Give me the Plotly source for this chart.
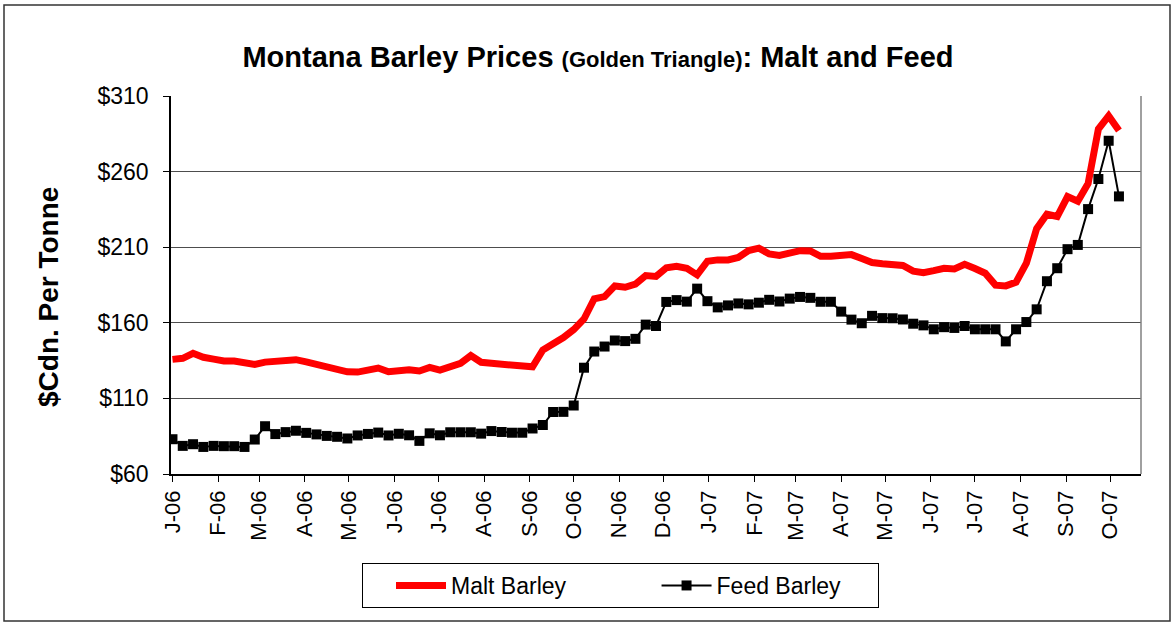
import pandas as pd
import plotly.graph_objects as go

# ---- data (weekly prices, $Cdn per tonne) ----
start_date = "2006-01-06"

malt_barley = [
    135.8, 136.5, 139.8, 137.2, 136.0, 134.7, 134.7, 134.0, 132.5, 134.0,
    134.9, 134.7, 135.6, 134.2, 132.5, 131.2, 129.9, 127.6, 127.4, 128.6,
    130.1, 127.6, 128.8, 128.9, 128.1, 130.5, 128.7, 131.5, 133.2, 138.3,
    133.9, 133.2, 132.7, 131.8, 131.6, 130.9, 142.0, 146.0, 150.2, 155.5,
    162.5, 175.9, 177.3, 184.4, 183.5, 185.6, 191.2, 190.7, 196.3, 197.4,
    196.0, 191.7, 200.7, 201.6, 201.6, 203.2, 207.8, 209.4, 205.5, 204.5,
    206.2, 207.7, 207.5, 204.0, 204.0, 204.0, 205.1, 202.5, 199.9, 199.0,
    198.5, 197.9, 194.2, 193.1, 194.5, 196.1, 195.6, 198.7, 195.9, 192.8,
    184.9, 184.4, 186.9, 199.4, 222.3, 231.8, 230.3, 243.5, 240.4, 252.1,
    288.1, 296.8, 287.2,
]

feed_barley = [
    83.0, 78.6, 79.7, 77.9, 78.6, 78.4, 78.4, 77.9, 82.8, 91.6,
    86.4, 87.7, 88.6, 87.2, 86.2, 85.2, 84.6, 83.5, 85.5, 86.5,
    87.4, 85.5, 86.6, 85.6, 81.9, 86.9, 85.6, 87.6, 87.6, 87.6,
    86.7, 88.4, 87.8, 87.3, 87.3, 90.1, 92.4, 101.0, 101.1, 105.3,
    130.3, 141.0, 144.3, 148.3, 147.9, 149.4, 158.8, 157.9, 173.8, 175.0,
    174.0, 182.6, 174.3, 170.2, 171.5, 172.8, 172.2, 173.3, 175.2, 174.1,
    176.0, 177.1, 176.5, 173.9, 173.9, 167.4, 162.1, 159.7, 164.6, 163.1,
    163.0, 162.2, 159.4, 158.3, 155.7, 157.1, 156.6, 157.9, 155.7, 155.7,
    155.7, 147.7, 155.7, 160.5, 168.9, 187.5, 196.1, 208.7, 211.5, 235.2,
    255.1, 280.4, 243.6,
]

tick_dates = [
    "2006-01-06", "2006-02-06", "2006-03-06", "2006-04-06", "2006-05-06",
    "2006-06-06", "2006-07-06", "2006-08-06", "2006-09-06", "2006-10-06",
    "2006-11-06", "2006-12-06", "2007-01-06", "2007-02-06", "2007-03-06",
    "2007-04-06", "2007-05-06", "2007-06-06", "2007-07-06", "2007-08-06",
    "2007-09-06", "2007-10-06",
]
tick_labels = [
    "J-06", "F-06", "M-06", "A-06", "M-06", "J-06", "J-06", "A-06", "S-06",
    "O-06", "N-06", "D-06", "J-07", "F-07", "M-07", "A-07", "M-07", "J-07",
    "J-07", "A-07", "S-07", "O-07",
]

y_ticks = [60, 110, 160, 210, 260, 310]
y_tick_labels = ["$60", "$110", "$160", "$210", "$260", "$310"]

weeks = pd.date_range(start=start_date, periods=len(malt_barley), freq="7D")

FONT = "Arial, 'Liberation Sans', sans-serif"
NB = "\u00a0"

fig = go.Figure()
fig.add_trace(go.Scatter(
    x=weeks, y=malt_barley, name="Malt Barley" + NB * 9, mode="lines",
    line=dict(color="#FF0000", width=7),
))
fig.add_trace(go.Scatter(
    x=weeks, y=feed_barley, name="Feed Barley" + NB * 5, mode="lines+markers",
    line=dict(color="#000000", width=2),
    marker=dict(symbol="square", size=10, color="#000000"),
))

L, R, T, B = 171, 1141, 96, 474
W, H = 1175, 625

fig.update_layout(
    width=W, height=H,
    margin=dict(l=L, r=W - R, t=T, b=H - B, autoexpand=False),
    paper_bgcolor="white", plot_bgcolor="white",
    font=dict(family=FONT, color="black", size=22),
    title=dict(
        text="<b>Montana Barley Prices <span style='font-size:22px'>(Golden Triangle)</span>: Malt and Feed</b>",
        x=598 / W, xanchor="center", xref="container",
        y=1 - 57 / H, yanchor="middle", yref="container",
        font=dict(size=29, family=FONT, color="black"),
    ),
    showlegend=True,
    legend=dict(
        orientation="h",
        x=(362 - L) / (R - L), xanchor="left",
        y=(B - 563) / (B - T), yanchor="top",
        bordercolor="black", borderwidth=1,
        font=dict(size=23, family=FONT, color="black"),
        itemwidth=50,
        indentation=28,
    ),
)

fig.update_xaxes(
    type="date",
    range=["2006-01-05", "2007-10-27"],
    tickvals=tick_dates, ticktext=tick_labels,
    tickangle=-90,
    ticks="outside", ticklen=6, tickcolor="black", tickwidth=1,
    showline=True, linecolor="black", linewidth=1.5,
    showgrid=False, zeroline=False,
    tickfont=dict(size=22, family=FONT, color="black"),
)
fig.update_yaxes(
    range=[60, 310],
    tickvals=y_ticks, ticktext=y_tick_labels,
    ticks="outside", ticklen=6, tickcolor="black", tickwidth=1,
    ticklabelstandoff=10,
    showline=True, linecolor="black", linewidth=1.5,
    showgrid=True, gridcolor="#4d4d4d", gridwidth=1,
    zeroline=False,
    tickfont=dict(size=23, family=FONT, color="black"),
)

# y-axis title
fig.add_annotation(
    text="<b>$Cdn. Per Tonne</b>", textangle=-90,
    xref="paper", yref="paper",
    x=(48 - L) / (R - L), y=(B - 297) / (B - T),
    xanchor="center", yanchor="middle", showarrow=False,
    font=dict(size=28, family=FONT, color="black"),
)

# plot-area right border and outer chart border
fig.add_shape(type="line", xref="paper", yref="paper", x0=1, x1=1, y0=0, y1=1,
              line=dict(color="#808080", width=1.5))
fig.add_shape(type="rect", xref="paper", yref="paper",
              x0=(4 - L) / (R - L), x1=(1170 - L) / (R - L),
              y0=(B - 621) / (B - T), y1=(B - 5) / (B - T),
              line=dict(color="#333333", width=1.5), fillcolor="rgba(0,0,0,0)")

fig.write_html(
    "out.html",
    config={"displayModeBar": False},
    post_script="document.body.style.margin='0';document.body.style.overflow='hidden';",
)
